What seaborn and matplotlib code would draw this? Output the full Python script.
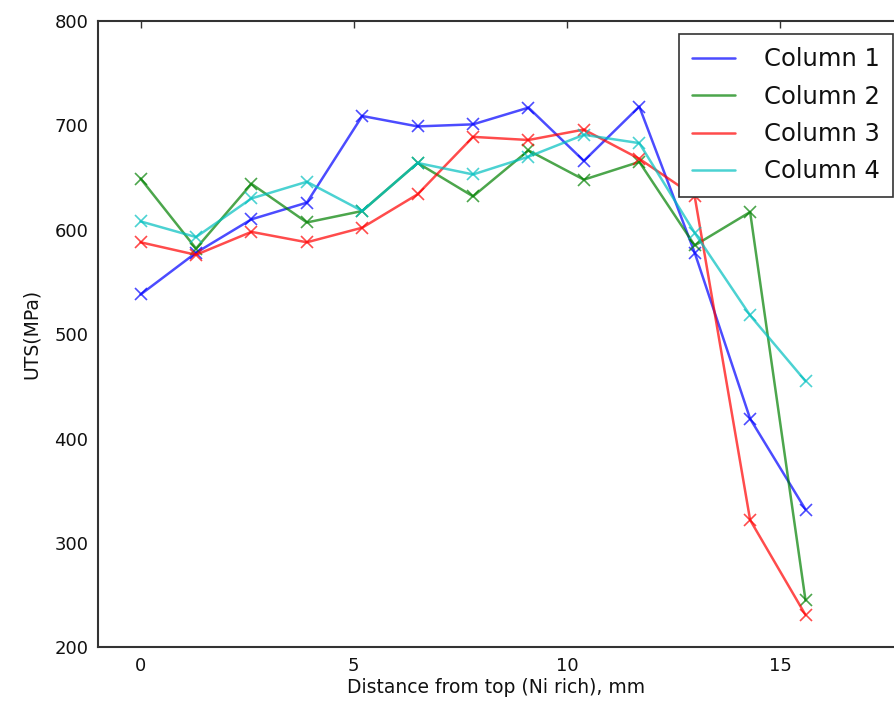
import matplotlib
matplotlib.use("Agg")
import matplotlib.pyplot as plt
from matplotlib.lines import Line2D
import seaborn as sns
import pandas as pd

distance = [0.0, 1.3, 2.6, 3.9, 5.2, 6.5, 7.8, 9.1, 10.4, 11.7, 13.0, 14.3, 15.6]
column1 = [538, 578, 610, 626, 709, 699, 701, 717, 666, 718, 578, 419, 332]
column2 = [649, 582, 644, 607, 618, 664, 632, 676, 648, 665, 585, 617, 245]
column3 = [588, 576, 598, 588, 602, 634, 689, 686, 696, 668, 632, 322, 231]
column4 = [608, 593, 630, 646, 618, 664, 653, 670, 691, 683, 597, 518, 455]
series_names = ["Column 1", "Column 2", "Column 3", "Column 4"]
colors = ["#0000ff", "#008000", "#ff0000", "#00bfbf"]
xticks = [0, 5, 10, 15]
yticks = [200, 300, 400, 500, 600, 700, 800]

sns.set_style("white", {"xtick.direction": "in", "ytick.direction": "in"})
plt.rcParams["font.family"] = ["DejaVu Sans"]
plt.rcParams["text.color"] = "#111111"
plt.rcParams["axes.labelcolor"] = "#111111"

W, H = 894, 704
fig = plt.figure(figsize=(W / 100, H / 100), dpi=100)
ax = fig.add_axes([98 / W, 56.7 / H, (W - 98) / W, (647.3 - 21) / H])

series = [column1, column2, column3, column4]
for name, vals, c in zip(series_names, series, colors):
    df = pd.DataFrame({"x": distance, "y": vals})
    sns.lineplot(data=df, x="x", y="y", ax=ax, color=c, marker="x",
                 markersize=9, markeredgewidth=1.2, markeredgecolor=c,
                 linewidth=1.8, alpha=0.7, legend=False)

ax.set_xlim(-1, (W - 141) / 42.6)
ax.set_ylim(200, 800)
ax.set_xticks(xticks)
ax.set_yticks(yticks)
ax.tick_params(axis="both", which="both", direction="in", length=5, width=1,
               labelsize=13, top=True, right=False, color="#333333",
               labelcolor="#111111", pad=7)
for side in ["left", "bottom", "top"]:
    ax.spines[side].set_color("#333333")
    ax.spines[side].set_linewidth(1.5)
ax.spines["right"].set_visible(False)

ax.set_xlabel("Distance from top (Ni rich), mm", fontsize=13.5, labelpad=2)
ax.set_ylabel("UTS(MPa)", fontsize=13.5, labelpad=10)

handles = [Line2D([0], [0], color=c, linewidth=1.8, alpha=0.7) for c in colors]
leg = fig.legend(handles, series_names, loc="upper right",
                 bbox_to_anchor=(893 / W, 1 - 34 / H), borderaxespad=0,
                 fontsize=17.5, frameon=True, fancybox=False, framealpha=1,
                 edgecolor="#333333", handlelength=1.75, handletextpad=1.2,
                 labelspacing=0.55, borderpad=0.55)
leg.get_frame().set_linewidth(1.2)

fig.savefig("out.png", dpi=100)
